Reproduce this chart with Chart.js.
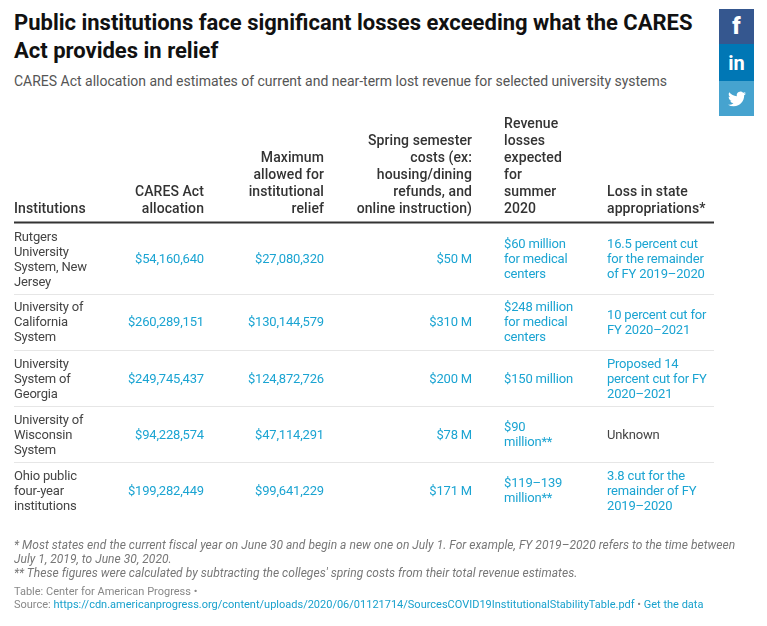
<!DOCTYPE html>
<html>
<head>
<meta charset="utf-8">
<title>CARES Act table</title>
<script src="https://cdn.jsdelivr.net/npm/chart.js@4"></script>
<style>
  html, body { margin: 0; padding: 0; background: #fff; }
  body { width: 767px; height: 626px; position: relative; overflow: hidden; font-family: Roboto, sans-serif; }
  #table-chart { position: absolute; left: 0; top: 0; }
  .abs { position: absolute; left: 14px; margin: 0; }
  h1 { top: 9px; width: 700px; font-size: 22px; line-height: 28px; font-weight: 700; color: #111; }
  #sub { top: 72px; font-size: 14px; line-height: 18px; color: #555; white-space: nowrap; letter-spacing: -0.01px; }
  #notes { top: 538px; font-size: 12px; line-height: 14px; font-style: italic; color: #777; white-space: nowrap; letter-spacing: 0.037px; }
  #source { top: 585px; font-size: 11px; line-height: 13px; color: #888; white-space: nowrap; }
  #source a { color: #18a1cd; text-decoration: none; }
  .share { position: absolute; left: 719px; width: 35px; display: flex; align-items: center; justify-content: center; color: #fff; font-weight: 700; }
</style>
</head>
<body>
<h1 class="abs">Public institutions face significant losses exceeding what the CARES Act provides in relief</h1>
<p class="abs" id="sub">CARES Act allocation and estimates of current and near-term lost revenue for selected university systems</p>
<canvas id="table-chart" width="767" height="626"></canvas>
<p class="abs" id="notes">* Most states end the current fiscal year on June 30 and begin a new one on July 1. For example, FY 2019–2020 refers to the time between<br>July 1, 2019, to June 30, 2020.<br>** These figures were calculated by subtracting the colleges' spring costs from their total revenue estimates.</p>
<p class="abs" id="source">Table: Center for American Progress •<br>Source: <a>https://cdn.americanprogress.org/content/uploads/2020/06/01121714/SourcesCOVID19InstitutionalStabilityTable.pdf</a> • <a>Get the data</a></p>
<div class="share" style="top:9px;height:35px;background:#35578f;font-size:23px;font-weight:900">f</div>
<div class="share" style="top:44px;height:37px;background:#0077b5;font-size:20px">in</div>
<div class="share" style="top:81px;height:35px;background:#46a3cf">
  <svg width="18" height="18" viewBox="0 0 24 24"><path fill="#fff" d="M23.953 4.57a10 10 0 01-2.825.775 4.958 4.958 0 002.163-2.723c-.951.555-2.005.959-3.127 1.184a4.92 4.92 0 00-8.384 4.482C7.69 8.095 4.067 6.13 1.64 3.162a4.822 4.822 0 00-.666 2.475c0 1.71.87 3.213 2.188 4.096a4.904 4.904 0 01-2.228-.616v.06a4.923 4.923 0 003.946 4.827 4.996 4.996 0 01-2.212.085 4.936 4.936 0 004.604 3.417 9.867 9.867 0 01-6.102 2.105c-.39 0-.779-.023-1.17-.067a13.995 13.995 0 007.557 2.209c9.053 0 13.998-7.496 13.998-13.985 0-.21 0-.42-.015-.63A9.935 9.935 0 0024 4.59z"/></svg>
</div>
<script>
  const headers = [
    'Institutions',
    'CARES Act\nallocation',
    'Maximum\nallowed for\ninstitutional\nrelief',
    'Spring semester\ncosts (ex:\nhousing/dining\nrefunds, and\nonline instruction)',
    'Revenue\nlosses\nexpected\nfor\nsummer\n2020',
    'Loss in state\nappropriations*'
  ];
  const institutions = [
    'Rutgers\nUniversity\nSystem, New\nJersey',
    'University of\nCalifornia\nSystem',
    'University\nSystem of\nGeorgia',
    'University of\nWisconsin\nSystem',
    'Ohio public\nfour-year\ninstitutions'
  ];
  const caresAllocation = [54160640, 260289151, 249745437, 94228574, 199282449];
  const maxRelief = [27080320, 130144579, 124872726, 47114291, 99641229];
  const springCostsM = [50, 310, 200, 78, 171];
  const summerLosses = [
    '$60 million\nfor medical\ncenters',
    '$248 million\nfor medical\ncenters',
    '$150 million',
    '$90\nmillion**',
    '$119–139\nmillion**'
  ];
  const stateLosses = [
    '16.5 percent cut\nfor the remainder\nof FY 2019–2020',
    '10 percent cut for\nFY 2020–2021',
    'Proposed 14\npercent cut for FY\n2020–2021',
    'Unknown',
    '3.8 cut for the\nremainder of FY\n2019–2020'
  ];

  const INK = '#333';
  const CELL_INK = '#444';
  const BLUE = '#1ba4d2';
  const WIDTH = 767, HEIGHT = 626;
  const LEFT = 14, RIGHT = 714;
  const HEADER_RULE_Y = 222.5, HEADER_LH = 17;
  const ROW_LH = 15, ROW_PAD = 11;
  const CELL_FONT = '13px Roboto';
  const HEADER_FONT = '500 14px Roboto';
  const columns = [
    { x: 14, align: 'left' },
    { x: 204, align: 'right' },
    { x: 324, align: 'right' },
    { x: 472, align: 'right' },
    { x: 504, align: 'left' },
    { x: 607, align: 'left' }
  ];

  const money = v => '$' + v.toLocaleString('en-US');
  const cellText = [
    institutions,
    caresAllocation.map(money),
    maxRelief.map(money),
    springCostsM.map(v => '$' + v + ' M'),
    summerLosses,
    stateLosses
  ];

  // row bands follow the tallest cell of each row
  const rowEdges = [HEADER_RULE_Y + 0.5];
  institutions.forEach((_, r) => {
    const lines = Math.max(...cellText.map(col => String(col[r]).split('\n').length));
    rowEdges.push(rowEdges[r] + lines * ROW_LH + ROW_PAD);
  });

  const textDatasets = cellText.map((col, c) => ({
    type: 'scatter',
    label: headers[c],
    data: col.map((t, r) => ({ x: columns[c].x, y: (rowEdges[r] + rowEdges[r + 1]) / 2 + 2, text: String(t) })),
    pointRadius: 0,
    cellAlign: columns[c].align,
    cellColor: c === 0 ? CELL_INK : BLUE
  }));

  const headerDataset = {
    type: 'scatter',
    label: 'header',
    data: headers.map((t, c) => ({ x: columns[c].x, y: HEADER_RULE_Y - 7, text: t })),
    pointRadius: 0,
    isHeader: true
  };

  const rule = (y, color, w) => ({
    type: 'line',
    data: [{ x: LEFT, y: y }, { x: RIGHT, y: y }],
    borderColor: color,
    borderWidth: w,
    pointRadius: 0
  });
  const ruleDatasets = [rule(HEADER_RULE_Y, '#333', 2)].concat(
    rowEdges.slice(1, -1).map(y => rule(Math.round(y) + 0.5, '#e6e6e6', 1))
  );

  const cellLabels = {
    id: 'cellLabels',
    afterDatasetsDraw(chart) {
      const ctx = chart.ctx;
      ctx.save();
      chart.data.datasets.forEach((ds, i) => {
        if (ds.type !== 'scatter') return;
        chart.getDatasetMeta(i).data.forEach((pt, j) => {
          const raw = ds.data[j];
          const lines = raw.text.split('\n');
          if (ds.isHeader) {
            ctx.font = HEADER_FONT;
            ctx.letterSpacing = '0.08px';
            ctx.fillStyle = INK;
            ctx.textAlign = columns[j].align;
            ctx.textBaseline = 'alphabetic';
            lines.forEach((l, k) => ctx.fillText(l, pt.x, pt.y - 3 - (lines.length - 1 - k) * HEADER_LH));
          } else {
            ctx.font = CELL_FONT;
            ctx.letterSpacing = '-0.18px';
            ctx.fillStyle = raw.text === 'Unknown' ? CELL_INK : ds.cellColor;
            ctx.textAlign = ds.cellAlign;
            ctx.textBaseline = 'middle';
            const top = pt.y - (lines.length - 1) * ROW_LH / 2;
            lines.forEach((l, k) => ctx.fillText(l, pt.x, Math.floor(top) + k * ROW_LH));
          }
        });
      });
      ctx.restore();
    }
  };

  new Chart(document.getElementById('table-chart'), {
    type: 'scatter',
    data: { datasets: ruleDatasets.concat(textDatasets, [headerDataset]) },
    options: {
      responsive: false,
      animation: false,
      devicePixelRatio: window.devicePixelRatio,
      layout: { padding: 0 },
      plugins: { legend: { display: false }, tooltip: { enabled: false } },
      scales: {
        x: { type: 'linear', display: false, min: 0, max: WIDTH },
        y: { type: 'linear', display: false, min: 0, max: HEIGHT, reverse: true }
      }
    },
    plugins: [cellLabels]
  });
</script>
</body>
</html>
